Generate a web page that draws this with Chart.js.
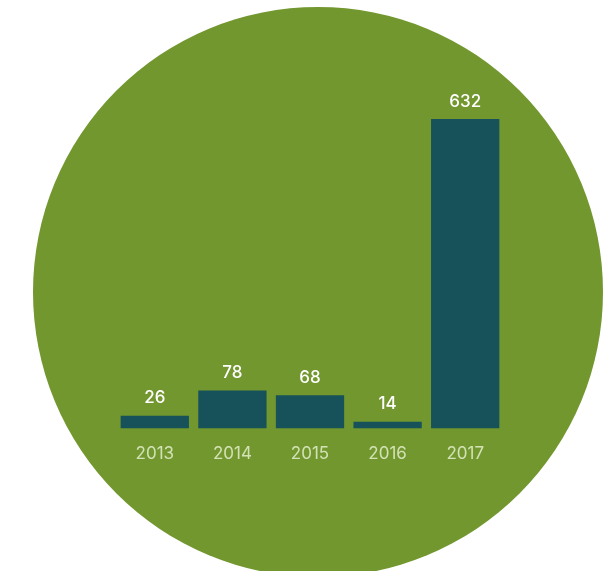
<!DOCTYPE html>
<html>
<head>
<meta charset="utf-8">
<script src="https://cdn.jsdelivr.net/npm/chart.js@4.4.1/dist/chart.umd.min.js"></script>
<style>
  html, body { margin: 0; padding: 0; background: #fff; }
  #wrap { width: 608px; height: 571px; position: relative; }
</style>
</head>
<body>
<div id="wrap"><canvas id="years_chart"></canvas></div>
<script>
var years = ['2013', '2014', '2015', '2016', '2017'];
var counts = [26, 78, 68, 14, 632];

var circleBackground = {
    id: 'circleBackground',
    beforeDraw: function (chart) {
        var c = chart.ctx;
        c.save();
        c.fillStyle = '#72972f';
        c.beginPath();
        c.arc(318, 292, 285, 0, Math.PI * 2);
        c.fill();
        c.restore();
    }
};

var valueLabels = {
    id: 'valueLabels',
    afterDatasetsDraw: function (chart) {
        var c = chart.ctx;
        var meta = chart.getDatasetMeta(0);
        c.save();
        c.fillStyle = '#ffffff';
        c.font = '500 17px Inter, "Open Sans", sans-serif';
        c.textAlign = 'center';
        c.textBaseline = 'bottom';
        meta.data.forEach(function (bar, i) {
            c.fillText(counts[i], bar.x, bar.y - 9);
        });
        c.restore();
    }
};

var chart = new Chart('years_chart', {
    type: 'bar',
    data: {
        labels: years,
        datasets: [{
            data: counts,
            backgroundColor: '#17525a',
            borderWidth: 0,
            barPercentage: 0.88,
            categoryPercentage: 1
        }]
    },
    options: {
        responsive: true,
        maintainAspectRatio: false,
        animation: false,
        layout: {
            padding: { left: 116, right: 104, top: 119, bottom: 92 }
        },
        plugins: {
            legend: { display: false },
            tooltip: { enabled: false }
        },
        scales: {
            x: {
                grid: { display: false, drawTicks: false },
                border: { display: false },
                ticks: {
                    color: '#d3e2b5',
                    font: { family: 'Inter, "Open Sans", sans-serif', size: 17 },
                    padding: 15
                }
            },
            y: {
                display: false,
                min: 0,
                max: 632
            }
        }
    },
    plugins: [circleBackground, valueLabels]
});
</script>
</body>
</html>
